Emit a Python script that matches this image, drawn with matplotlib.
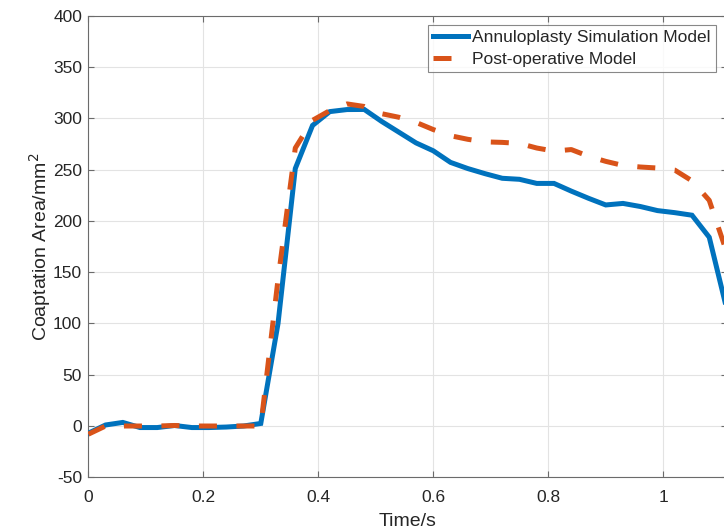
import matplotlib
matplotlib.use("Agg")
import matplotlib.pyplot as plt
import numpy as np

plt.rcParams['font.family'] = ['Liberation Sans', 'DejaVu Sans']
plt.rcParams['axes.unicode_minus'] = False

time_s = [0.00, 0.03, 0.06, 0.09, 0.12, 0.15, 0.18, 0.21, 0.24, 0.27,
          0.30, 0.33, 0.36, 0.39, 0.42, 0.45, 0.48, 0.51, 0.54, 0.57,
          0.60, 0.63, 0.66, 0.69, 0.72, 0.75, 0.78, 0.81, 0.84, 0.87,
          0.90, 0.93, 0.96, 0.99, 1.02, 1.05, 1.08, 1.11]

annuloplasty = [-7, 1, 3.5, -1.5, -1.5, 0.5, -1.5, -1.5, -1, 0,
                2.5, 100, 251, 293, 306.5, 308.5, 308.6, 297, 286.5, 276,
                268.3, 257, 251, 246, 241.5, 240.5, 236.5, 236.5, 229, 222,
                215.5, 217, 214, 210, 208, 205.5, 184, 115]

post_operative = [-8, 0, 0, 0, 0, 0.5, 0, 0, 0, 0,
                  0, 143, 271, 298, 307.5, 314, 311.5, 304.5, 301, 296,
                  289, 283, 279.5, 277, 276.5, 275.5, 271, 268, 269.5, 263,
                  258, 254, 252.5, 251.5, 249.5, 239, 220, 170]

labels = ['Annuloplasty Simulation Model', 'Post-operative Model']
xticks = [0, 0.2, 0.4, 0.6, 0.8, 1.0]
xticklabels = ['0', '0.2', '0.4', '0.6', '0.8', '1']
yticks = [-50, 0, 50, 100, 150, 200, 250, 300, 350, 400]

W, H = 724, 531
fig = plt.figure(figsize=(W / 100, H / 100), dpi=100)
left, right, top, bottom = 88.3, 726.5, 15.7, 477.3
ax = fig.add_axes([left / W, (H - bottom) / H, (right - left) / W, (bottom - top) / H])

blue = '#0072BD'
orange = '#D95319'
txt = '#262626'

ax.plot(time_s, annuloplasty, color=blue, lw=3.6, label=labels[0],
        solid_joinstyle='miter', zorder=3)
ax.plot(time_s, post_operative, color=orange, lw=3.6, label=labels[1],
        dashes=[3.6, 3.9], dash_capstyle='butt', zorder=4)

ax.set_xlim(0, 1.11)
ax.set_ylim(-50, 400)
ax.set_xticks(xticks)
ax.set_xticklabels(xticklabels)
ax.set_yticks(yticks)

ax.grid(True, color='#e3e3e3', lw=0.8)
ax.set_axisbelow(True)

for s in ax.spines.values():
    s.set_color('#6b6b6b')
    s.set_linewidth(0.8)

ax.tick_params(direction='in', length=4.5, width=0.8, color='#6b6b6b',
               top=True, right=True, labelsize=12.5, labelcolor=txt)
ax.tick_params(axis='x', pad=9)
ax.tick_params(axis='y', pad=4.5)

ax.set_xlabel('Time/s', fontsize=14, color=txt, labelpad=6)
ax.set_ylabel('Coaptation Area/mm$^2$', fontsize=14, color=txt, labelpad=0)

leg = ax.legend(loc='upper left',
                bbox_to_anchor=((427.7 - left) / (right - left), 1 - (25 - top) / (bottom - top)),
                fontsize=12.5, frameon=True, fancybox=False, borderpad=0.3,
                handlelength=2.0, handletextpad=0.25, labelspacing=0.37,
                borderaxespad=0)
leg.get_frame().set_edgecolor('#6b6b6b')
leg.get_frame().set_linewidth(0.8)
for t in leg.get_texts():
    t.set_color(txt)

fig.savefig('out.png', dpi=100)
